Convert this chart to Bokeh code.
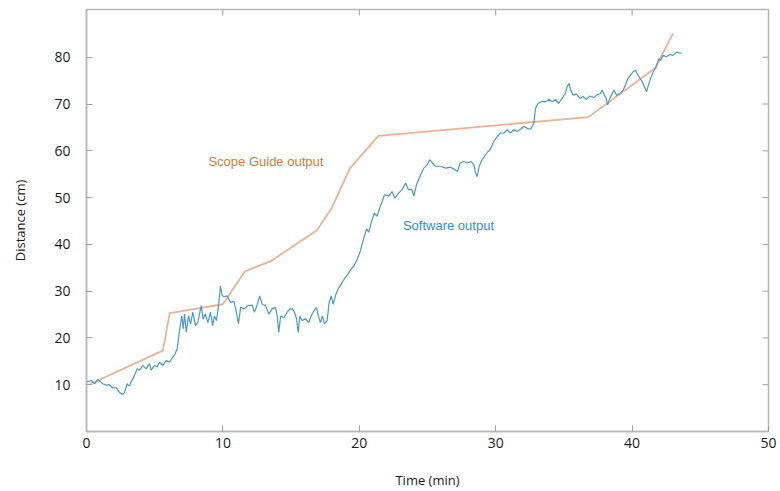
import math
from bokeh.plotting import figure
from bokeh.models import Range1d, FixedTicker, Label
from bokeh.embed import file_html
from bokeh.resources import INLINE

# ---- data ----
x_ticks = [0, 10, 20, 30, 40, 50]
y_ticks = [10, 20, 30, 40, 50, 60, 70, 80]
x_lo, x_hi = 0, 50
y_lo, y_hi = 0, 90.2

scope_t = [0.3, 5.6, 6.1, 10.0, 11.6, 13.5, 16.9, 18.0, 19.3, 21.4, 36.8, 41.7, 43.0]
scope_d = [10.2, 17.3, 25.3, 27.2, 34.2, 36.4, 43.0, 47.9, 56.2, 63.2, 67.2, 77.7, 85.1]

soft_t = [0.0, 0.34, 0.6, 0.83, 1.2, 1.44, 1.68, 1.93, 2.17, 2.42, 2.61, 2.78, 2.98, 3.15,
          3.27, 3.52, 3.71, 3.88, 4.13, 4.37, 4.62, 4.74, 4.99, 5.18, 5.35, 5.6, 5.84, 6.08,
          6.33, 6.5, 6.65, 6.77, 6.87, 6.99, 7.09, 7.19, 7.31, 7.48, 7.63, 7.8, 7.99, 8.16,
          8.41, 8.55, 8.7, 8.9, 9.09, 9.24, 9.38, 9.53, 9.68, 9.82, 9.95, 10.1, 10.3, 10.56,
          10.8, 10.97, 11.14, 11.3, 11.54, 11.83, 12.15,
          12.3, 12.45, 12.7, 12.88, 13.13, 13.37, 13.6, 13.86, 13.98, 14.1, 14.23, 14.47,
          14.72, 14.9, 15.1, 15.25, 15.4, 15.52, 15.64, 15.8, 16.05, 16.3, 16.47, 16.67,
          16.86, 17.0, 17.15, 17.3, 17.45, 17.64, 17.79, 17.94, 18.09, 18.25, 18.43, 18.67,
          18.9, 19.16, 19.4, 19.6, 19.8, 20.04, 20.2, 20.38, 20.53, 20.7, 20.87, 21.1, 21.3,
          21.5, 21.68, 21.85,
          22.15, 22.4, 22.6, 22.86, 23.14, 23.4, 23.6, 23.85, 24.0, 24.2, 24.5, 24.73, 24.98,
          25.17, 25.35, 25.59, 25.95, 26.32, 26.69, 26.93, 27.2, 27.4, 27.65, 27.95, 28.2,
          28.4, 28.52, 28.64, 28.79, 29.0, 29.25, 29.42, 29.6, 29.86, 30.1, 30.35, 30.6,
          30.84, 31.08, 31.33, 31.57, 31.82, 32.06, 32.3, 32.55,
          32.8, 32.92, 33.1, 33.35, 33.7, 33.9, 34.15, 34.4, 34.6, 34.87, 35.1, 35.24, 35.37,
          35.5, 35.68, 35.9, 36.18, 36.4, 36.65, 36.9, 37.2, 37.4, 37.67, 37.8, 37.97, 38.1,
          38.2, 38.37, 38.54, 38.67, 38.86, 39.1, 39.35, 39.5, 39.7, 39.9, 40.08, 40.25,
          40.37, 40.57, 40.74, 40.9, 41.06, 41.23, 41.4, 41.55, 41.7, 41.84, 41.96, 42.08,
          42.28, 42.52, 42.77, 43.0, 43.26, 43.5, 43.67]
soft_d = [10.6, 10.9, 10.2, 11.1, 10.2, 9.9, 10.0, 9.3, 9.4, 8.4, 7.9, 8.3, 10.2, 9.7,
          10.6, 12.0, 13.4, 13.1, 14.1, 13.4, 14.5, 13.1, 14.1, 13.8, 14.8, 14.1, 15.2, 14.8,
          15.9, 16.6, 17.7, 20.5, 22.6, 24.7, 21.9, 25.1, 21.2, 24.7, 23.0, 25.5, 22.6, 23.3,
          26.9, 24.0, 25.1, 23.3, 25.5, 22.6, 24.7, 23.7, 26.9, 31.1, 29.0, 28.8, 29.0, 27.6,
          27.8, 25.8, 23.0, 26.6, 26.2, 26.9, 27.0,
          25.5, 26.5, 29.0, 27.2, 26.9, 25.1, 26.2, 26.5, 24.7, 21.2, 24.7, 24.3,
          25.5, 26.2, 26.2, 25.5, 24.1, 21.2, 24.7, 23.7, 24.1, 23.3, 24.7, 25.8,
          26.5, 24.7, 23.3, 24.7, 23.0, 23.7, 27.6, 29.0, 27.2, 29.0, 30.4, 31.5,
          32.6, 33.6, 34.7, 35.4, 36.5, 38.2, 40.0, 41.8, 43.3, 42.6, 44.6, 46.7, 46.0,
          47.8, 49.2, 50.6,
          50.3, 51.3, 49.9, 50.9, 51.7, 53.1, 51.7, 51.7, 50.3, 52.8, 54.9, 56.3, 57.0,
          58.1, 57.4, 56.7, 56.7, 56.3, 56.5, 56.1, 55.6, 57.4, 57.7, 57.4, 57.7,
          57.0, 55.3, 54.5, 56.7, 58.1, 59.1, 59.8, 60.2, 62.0, 63.0, 63.8, 63.8,
          64.5, 63.8, 64.5, 64.1, 64.6, 65.2, 64.8, 64.6,
          65.9, 69.1, 70.1, 70.5, 70.5, 71.0, 70.5, 71.0, 70.1, 71.2, 72.2, 73.7, 74.4,
          73.0, 71.9, 72.1, 71.2, 71.6, 71.0, 71.7, 71.4, 71.9, 72.2, 73.0, 71.9, 71.2,
          69.8, 71.2, 72.2, 73.0, 71.9, 72.2, 73.0, 74.0, 75.5, 76.2, 76.9, 77.2,
          76.5, 75.5, 74.8, 73.7, 72.6, 74.4, 75.8, 76.9, 77.6, 78.6, 79.7, 79.3,
          80.4, 80.1, 80.6, 80.4, 81.1, 80.9, 80.9]

scope_label = "Scope Guide output"
soft_label = "Software output"

# ---- figure ----
p = figure(width=780, height=491, output_backend="svg", toolbar_location=None,
           x_range=Range1d(x_lo, x_hi), y_range=Range1d(y_lo, y_hi),
           min_border_left=86, min_border_right=12, min_border_top=9, min_border_bottom=58)
p.background_fill_color = "white"
p.border_fill_color = "white"
p.outline_line_color = "#b8b8b8"
p.outline_line_width = 1.5
p.xgrid.visible = False
p.ygrid.visible = False

for ax in (p.xaxis[0], p.yaxis[0]):
    ax.axis_line_color = "#b8b8b8"
    ax.axis_line_width = 1.5
    ax.major_tick_line_color = "#a0a0a0"
    ax.major_tick_in = 6
    ax.major_tick_out = 0
    ax.minor_tick_line_color = None
    ax.major_label_text_font = "Open Sans"
    ax.major_label_text_font_size = "14px"
    ax.major_label_text_color = "#1a1a1a"
    ax.axis_label_text_font = "Open Sans"
    ax.axis_label_text_font_size = "13px"
    ax.axis_label_text_font_style = "normal"
    ax.axis_label_text_color = "#1a1a1a"

p.xaxis[0].ticker = FixedTicker(ticks=x_ticks)
p.yaxis[0].ticker = FixedTicker(ticks=y_ticks)
p.xaxis[0].axis_label = "Time (min)"
p.yaxis[0].axis_label = "Distance (cm)"
p.xaxis[0].major_label_standoff = 6
p.xaxis[0].axis_label_standoff = 20
p.yaxis[0].major_label_standoff = 16
p.yaxis[0].axis_label_standoff = 22

# mirrored inward ticks on the right and top edges of the frame
p.ray(x=[x_hi] * len(y_ticks), y=y_ticks, length=6, length_units="screen",
      angle=math.pi, line_color="#a0a0a0", line_width=1)
p.ray(x=x_ticks, y=[y_hi] * len(x_ticks), length=6, length_units="screen",
      angle=-math.pi / 2, line_color="#a0a0a0", line_width=1)

p.line(scope_t, scope_d, line_color="#e9b394", line_width=1.8)
p.line(soft_t, soft_d, line_color="#4a9ac8", line_width=1.2)

p.add_layout(Label(x=8.94, y=57.7, text=scope_label, text_color="#c8803f",
                   text_font="Liberation Sans", text_font_size="13px",
                   text_baseline="middle", text_align="left"))
p.add_layout(Label(x=23.2, y=44.0, text=soft_label, text_color="#2f8fcc",
                   text_font="Liberation Sans", text_font_size="13px",
                   text_baseline="middle", text_align="left"))

open("out.html", "w").write(file_html(p, INLINE))
